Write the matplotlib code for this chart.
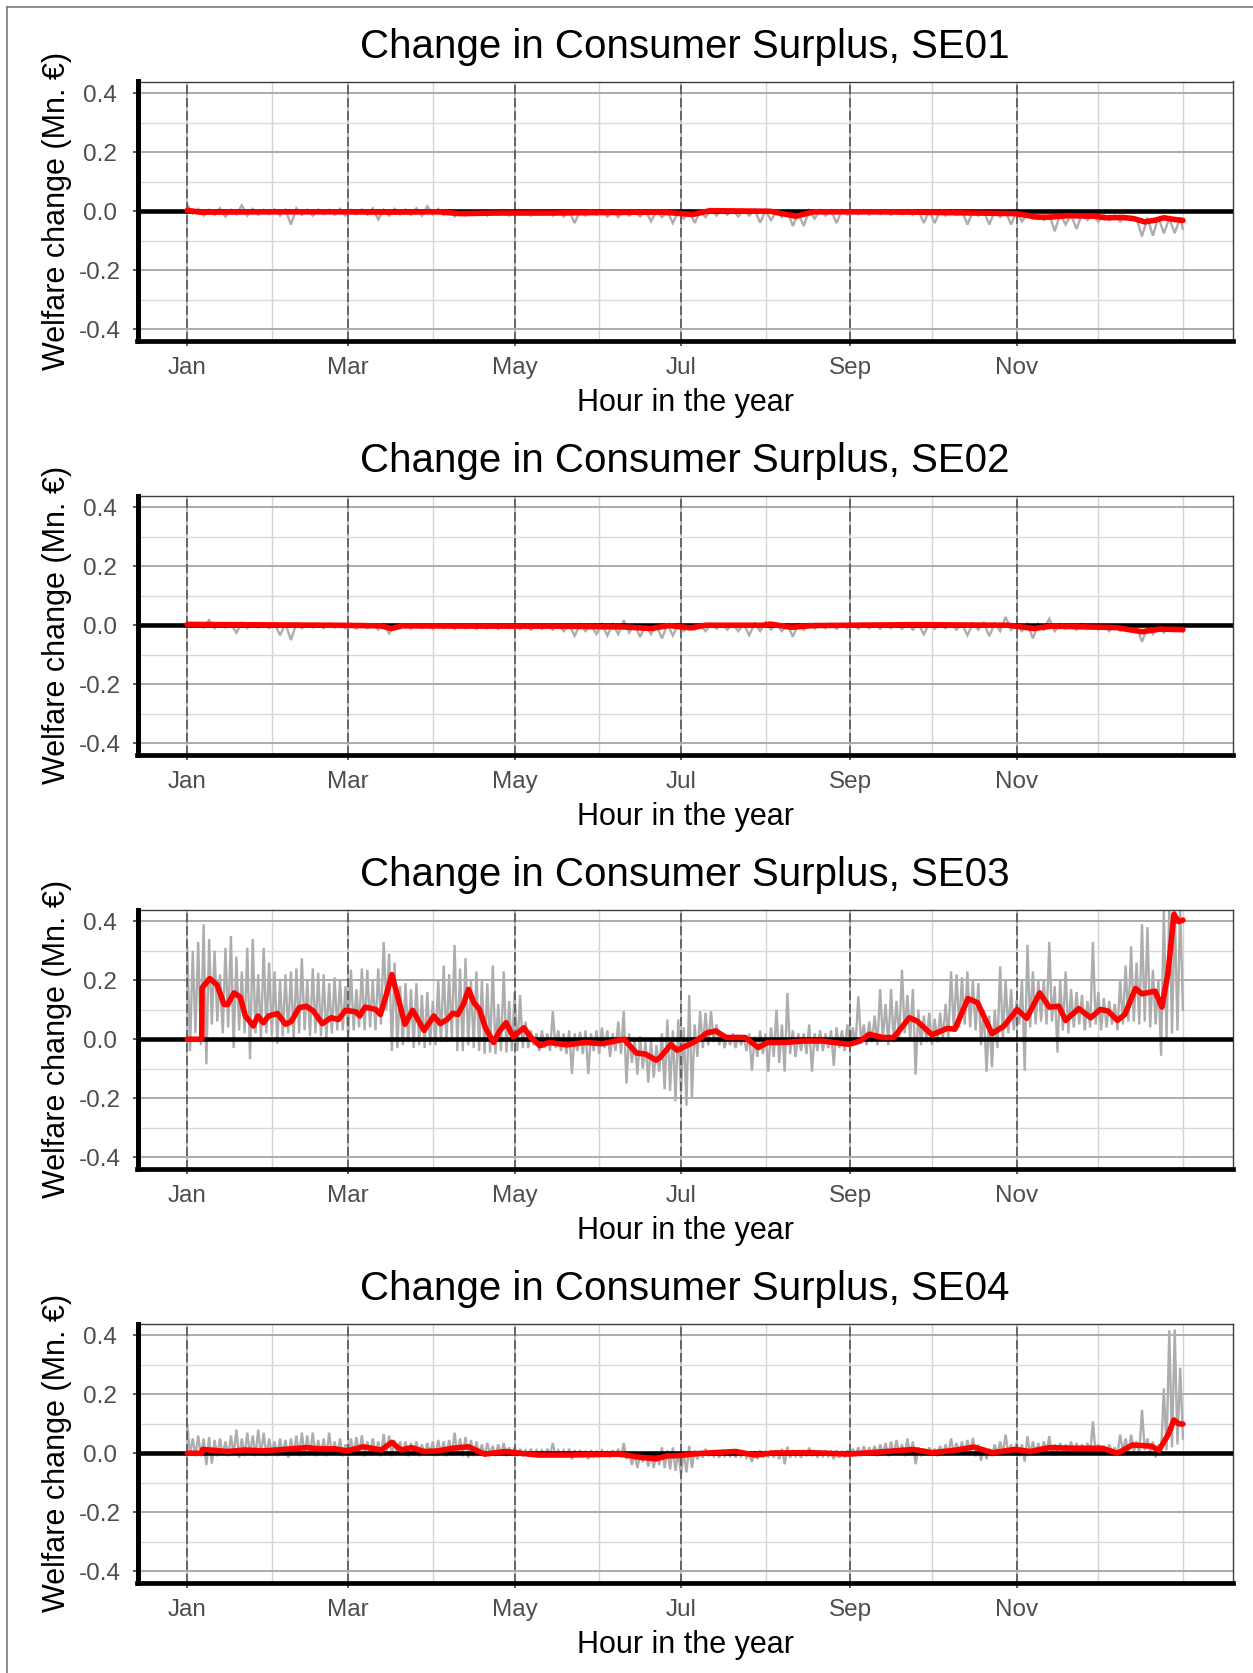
import numpy as np
import matplotlib
matplotlib.use("Agg")
import matplotlib.pyplot as plt
import matplotlib.dates as mdates
from matplotlib.lines import Line2D
from matplotlib.ticker import FixedLocator, FixedFormatter
from datetime import datetime

plt.rcParams['font.family'] = ['Liberation Sans', 'DejaVu Sans']
plt.rcParams['axes.unicode_minus'] = False

# ---------------------------------------------------------------- data
regions = ["SE01", "SE02", "SE03", "SE04"]
year = 2021
days_in_year = 365
major_months = [1, 3, 5, 7, 9, 11]
major_labels = ["Jan", "Mar", "May", "Jul", "Sep", "Nov"]
minor_months = [2, 4, 6, 8, 10, 12]
y_ticks = [-0.4, -0.2, 0.0, 0.2, 0.4]
y_tick_labels = ["-0.4", "-0.2", "0.0", "0.2", "0.4"]
y_minor = [-0.3, -0.1, 0.1, 0.3]

# Hourly welfare change, summarised as alternating peak / trough samples
# (peaks at step*k days, troughs half a step later), in Mn. EUR.
se01_step = 4
se01_hi = [0.022, 0.008, 0.005, 0.01, 0.005, 0.02, 0.008, 0.005, 0.006, 0.005, 0.01, 0.005,
           0.006, 0.005, 0.008, 0.005, 0.006, 0.01, 0.005, 0.008, 0.006, 0.01, 0.017, 0.008,
           0.003, 0.002, 0.0, 0.002, 0.0, 0.003, 0.0, 0.002, 0.0, 0.002, 0.003, 0.0,
           0.002, 0.0, 0.003, 0.0, 0.002, 0.0, 0.002, 0.0, -0.002, 0.0, 0.002, 0.0,
           0.006, 0.005, 0.004, 0.005, 0.004, 0.003, 0.0, 0.002, -0.005, 0.003, 0.004, 0.003,
           0.004, 0.003, 0.004, 0.003, 0.004, 0.003, 0.004, 0.003, 0.003, 0.002, 0.002, 0.0,
           0.0, 0.002, 0.0, 0.0, -0.002, -0.008, -0.012, -0.01, -0.01, -0.012, -0.008, -0.01,
           -0.012, -0.015, -0.02, -0.025, -0.022, -0.02, -0.025, -0.022]
se01_lo = [-0.008, -0.015, -0.012, -0.018, -0.01, -0.015, -0.012, -0.01, -0.015, -0.045, -0.012, -0.015,
           -0.01, -0.012, -0.015, -0.01, -0.012, -0.028, -0.015, -0.01, -0.012, -0.015, -0.01, -0.012,
           -0.018, -0.015, -0.012, -0.015, -0.012, -0.015, -0.012, -0.015, -0.012, -0.015, -0.018, -0.04,
           -0.015, -0.012, -0.018, -0.02, -0.015, -0.018, -0.034, -0.02, -0.04, -0.025, -0.04, -0.02,
           -0.015, -0.012, -0.018, -0.015, -0.039, -0.03, -0.02, -0.05, -0.05, -0.025, -0.015, -0.04,
           -0.012, -0.01, -0.012, -0.01, -0.012, -0.01, -0.012, -0.04, -0.04, -0.015, -0.012, -0.045,
           -0.015, -0.045, -0.02, -0.045, -0.035, -0.025, -0.03, -0.068, -0.045, -0.06, -0.03, -0.035,
           -0.03, -0.035, -0.03, -0.085, -0.083, -0.075, -0.074, -0.06]
se01_avg_day = [0, 4.6, 30, 54.9, 75, 92, 99.9, 115, 134.3, 155, 174, 185.3, 191.6, 213.7, 223,
                229.6, 250, 266.6, 287.8, 303.7, 311.6, 316, 323, 332.8, 336.5, 343, 347, 351,
                355, 358, 362, 365]
se01_avg_val = [0.003, -0.003, -0.002, -0.002, -0.003, -0.002, -0.008, -0.006, -0.006, -0.004, -0.003,
                -0.011, 0.002, 0.0, -0.017, -0.002, -0.002, -0.003, -0.006, -0.008, -0.02, -0.02,
                -0.015, -0.017, -0.022, -0.021, -0.025, -0.036, -0.03, -0.022, -0.028, -0.031]

se02_step = 4
se02_hi = [0.008, 0.006, 0.017, 0.007, 0.006, 0.008, 0.005, 0.006, 0.007, 0.005, 0.006, 0.005,
           0.005, 0.006, 0.004, 0.005, 0.004, 0.003, 0.004, 0.003, 0.004, 0.003, 0.004, 0.003,
           0.003, 0.004, 0.003, 0.002, 0.003, 0.002, 0.003, 0.002, 0.003, 0.002, 0.003, 0.002,
           0.003, 0.002, 0.004, 0.003, 0.017, 0.002, 0.001, 0.0, 0.003, 0.004, 0.003, 0.004,
           0.005, 0.004, 0.005, 0.004, 0.006, 0.01, 0.004, 0.003, 0.004, 0.005, 0.004, 0.005,
           0.004, 0.005, 0.006, 0.005, 0.006, 0.005, 0.006, 0.005, 0.006, 0.005, 0.006, 0.005,
           0.006, 0.008, 0.006, 0.028, 0.005, 0.004, 0.005, 0.022, 0.004, 0.003, 0.004, 0.003,
           0.002, 0.0, -0.002, -0.005, -0.008, -0.005, -0.006, -0.008]
se02_lo = [-0.005, -0.008, -0.01, -0.008, -0.026, -0.01, -0.008, -0.01, -0.034, -0.05, -0.01, -0.008,
           -0.01, -0.008, -0.01, -0.012, -0.01, -0.015, -0.028, -0.01, -0.012, -0.01, -0.012, -0.01,
           -0.012, -0.01, -0.012, -0.01, -0.012, -0.01, -0.012, -0.015, -0.012, -0.015, -0.02, -0.036,
           -0.02, -0.03, -0.035, -0.03, -0.025, -0.04, -0.03, -0.045, -0.035, -0.02, -0.015, -0.02,
           -0.012, -0.015, -0.02, -0.034, -0.02, -0.015, -0.02, -0.039, -0.015, -0.012, -0.01, -0.012,
           -0.01, -0.012, -0.01, -0.012, -0.01, -0.012, -0.015, -0.031, -0.012, -0.01, -0.015, -0.034,
           -0.015, -0.037, -0.02, -0.015, -0.02, -0.045, -0.015, -0.02, -0.012, -0.015, -0.012, -0.015,
           -0.02, -0.018, -0.02, -0.056, -0.03, -0.025, -0.02, -0.022]
se02_avg_day = [0, 15.3, 54.9, 70.8, 74.8, 78.7, 107.8, 134.3, 160.7, 170, 176.6, 184.6, 189.9,
                211, 213.7, 221.6, 229.6, 266.6, 301, 310.3, 316.9, 340.7, 350, 356.6, 365]
se02_avg_val = [0.003, 0.002, 0.0, -0.002, -0.011, -0.002, -0.003, -0.003, -0.006, -0.011, -0.001,
                -0.009, 0.0, 0.0, 0.004, -0.007, -0.001, 0.002, 0.0, -0.011, -0.003, -0.008,
                -0.022, -0.013, -0.015]

se03_step = 2
se03_hi = [0.31, 0.30, 0.33, 0.39, 0.34, 0.30, 0.22, 0.31, 0.35, 0.28,
           0.23, 0.31, 0.34, 0.22, 0.31, 0.26, 0.23, 0.20, 0.22, 0.23,
           0.24, 0.275, 0.20, 0.24, 0.225, 0.22, 0.19, 0.21, 0.20, 0.18,
           0.236, 0.17, 0.24, 0.235, 0.20, 0.24, 0.33, 0.29, 0.26, 0.18,
           0.19, 0.17, 0.19, 0.15, 0.16, 0.13, 0.20, 0.25, 0.22, 0.32,
           0.24, 0.275, 0.20, 0.23, 0.20, 0.19, 0.25, 0.12, 0.23, 0.13,
           0.16, 0.15, 0.06, 0.03, 0.02, 0.03, 0.02, 0.095, 0.03, 0.02,
           0.03, 0.02, 0.025, 0.03, 0.02, 0.03, 0.04, 0.03, 0.02, 0.06,
           0.095, 0.02, 0.0, 0.01, -0.01, 0.0, -0.02, 0.02, 0.067, 0.03,
           0.067, 0.04, 0.15, 0.05, 0.095, 0.09, 0.095, 0.05, 0.02, 0.015,
           0.02, 0.015, 0.01, 0.02, 0.01, 0.03, 0.02, 0.04, 0.10, 0.05,
           0.157, 0.03, 0.02, 0.02, 0.05, 0.02, 0.03, 0.02, 0.03, 0.04,
           0.03, 0.05, 0.04, 0.146, 0.05, 0.06, 0.08, 0.17, 0.12, 0.17,
           0.13, 0.236, 0.15, 0.17, 0.10, 0.08, 0.09, 0.07, 0.09, 0.12,
           0.23, 0.22, 0.21, 0.23, 0.20, 0.19, 0.10, 0.08, 0.10, 0.247,
           0.20, 0.17, 0.13, 0.20, 0.32, 0.23, 0.20, 0.20, 0.33, 0.18,
           0.20, 0.23, 0.17, 0.16, 0.15, 0.13, 0.33, 0.16, 0.14, 0.13,
           0.12, 0.20, 0.25, 0.315, 0.26, 0.39, 0.38, 0.235, 0.20, 0.44,
           0.45, 0.45, 0.45]
se03_lo = [-0.04, 0.02, -0.02, -0.085, 0.05, 0.06, 0.02, 0.04, -0.03, 0.03,
           0.02, -0.067, 0.02, 0.00, 0.02, 0.01, -0.015, 0.01, 0.02, 0.00,
           0.02, 0.03, 0.01, 0.02, 0.01, 0.00, 0.02, 0.03, 0.03, 0.01,
           0.03, 0.04, 0.03, 0.04, 0.03, 0.05, 0.10, -0.04, -0.03, -0.02,
           -0.01, -0.03, -0.02, -0.03, -0.02, -0.02, -0.01, -0.01, 0.00, -0.04,
           -0.04, -0.02, -0.03, -0.04, -0.05, -0.045, -0.05, -0.04, -0.045, -0.04,
           -0.04, -0.03, -0.03, -0.02, -0.04, -0.03, -0.04, -0.03, -0.04, -0.05,
           -0.118, -0.04, -0.05, -0.118, -0.04, -0.05, -0.03, -0.06, -0.04, -0.05,
           -0.15, -0.08, -0.12, -0.10, -0.147, -0.13, -0.11, -0.17, -0.175, -0.21,
           -0.18, -0.225, -0.20, -0.06, -0.03, -0.02, -0.01, -0.02, -0.03, -0.02,
           -0.03, -0.02, -0.04, -0.107, -0.06, -0.05, -0.11, -0.06, -0.08, -0.11,
           -0.05, -0.06, -0.04, -0.05, -0.11, -0.04, -0.04, -0.03, -0.09, -0.03,
           -0.04, -0.02, -0.02, -0.01, -0.02, -0.01, -0.02, 0.00, -0.02, -0.01,
           0.00, 0.02, 0.00, -0.12, -0.02, -0.01, -0.02, -0.01, 0.00, 0.00,
           0.03, 0.04, 0.05, 0.04, 0.03, -0.02, -0.11, -0.095, -0.03, 0.00,
           0.02, 0.03, 0.05, -0.107, 0.04, 0.05, 0.06, 0.05, 0.06, -0.045,
           0.03, 0.02, 0.04, 0.05, 0.03, 0.04, 0.05, 0.03, 0.04, 0.05,
           0.03, 0.05, 0.06, 0.06, 0.05, 0.06, 0.04, 0.05, -0.056, 0.00,
           0.02, 0.03, 0.10]
se03_avg_day = [0, 5.3, 5.4, 8.2, 10.9, 13.5, 14.8, 17.1, 19.4, 21.3, 24.2, 25.9, 27.9, 29.8,
                33.1, 36.0, 38.1, 41.0, 43.6, 46.2, 49.5, 52.7, 55.4, 58.0, 61.9, 63.2, 65.2,
                69.1, 70.8, 73.0, 75.0, 77.6, 79.8, 82.6, 84.2, 86.8, 90.4, 92.7, 95.3, 97.3,
                99.2, 101.2, 103.1, 105.1, 107.1, 109.3, 112.3, 114.5, 116.9, 119.5, 123.4,
                126.0, 129.3, 132.6, 139.1, 145.7, 152.2, 160.1, 164.7, 167.9, 171.9, 173.3,
                177.3, 179.5, 183.0, 186.5, 190.6, 193.8, 197.5, 204.5, 209.3, 212.8, 219.0,
                226.0, 233.0, 237.0, 242.6, 246.7, 250.0, 255.0, 259.0, 264.7, 267.5, 273.0,
                278.6, 281.4, 286.2, 289.7, 295.0, 299.4, 304.2, 307.7, 312.5, 316.0, 319.5,
                322.0, 326.8, 331.2, 334.7, 337.5, 341.0, 343.7, 347.6, 350.0, 354.8, 357.3,
                359.6, 361.7, 363.4, 365.0]
se03_avg_val = [0.0, 0.0, 0.174, 0.206, 0.185, 0.118, 0.118, 0.157, 0.143, 0.079, 0.045, 0.079,
                0.056, 0.079, 0.087, 0.051, 0.060, 0.107, 0.112, 0.096, 0.053, 0.073, 0.067,
                0.098, 0.093, 0.079, 0.109, 0.101, 0.084, 0.152, 0.219, 0.129, 0.051, 0.098,
                0.073, 0.030, 0.079, 0.053, 0.067, 0.088, 0.084, 0.118, 0.169, 0.124, 0.101,
                0.039, -0.011, 0.028, 0.056, 0.008, 0.039, 0.006, -0.022, -0.011, -0.019,
                -0.011, -0.015, 0.0, -0.047, -0.050, -0.071, -0.062, -0.018, -0.037, -0.022,
                -0.006, 0.022, 0.028, 0.006, 0.006, -0.028, -0.011, -0.011, -0.006, -0.006,
                -0.011, -0.017, -0.006, 0.017, 0.006, 0.006, 0.073, 0.062, 0.015, 0.037, 0.034,
                0.138, 0.124, 0.019, 0.045, 0.101, 0.071, 0.157, 0.109, 0.112, 0.064, 0.104,
                0.073, 0.101, 0.096, 0.064, 0.084, 0.172, 0.154, 0.163, 0.109, 0.23, 0.424,
                0.399, 0.404]

se04_step = 2
se04_hi = [0.095, 0.05, 0.06, 0.05, 0.055, 0.045, 0.05, 0.04, 0.06, 0.08,
           0.05, 0.07, 0.06, 0.08, 0.07, 0.05, 0.04, 0.05, 0.045, 0.05,
           0.06, 0.07, 0.06, 0.07, 0.045, 0.05, 0.07, 0.04, 0.05, 0.03,
           0.05, 0.055, 0.06, 0.04, 0.05, 0.04, 0.065, 0.06, 0.045, 0.04,
           0.04, 0.035, 0.04, 0.03, 0.035, 0.04, 0.045, 0.04, 0.045, 0.07,
           0.05, 0.055, 0.045, 0.04, 0.03, 0.035, 0.025, 0.03, 0.035, 0.02,
           0.02, 0.015, 0.01, 0.015, 0.01, 0.01, 0.015, 0.035, 0.01, 0.01,
           0.015, 0.01, 0.01, 0.005, 0.01, 0.005, 0.01, 0.005, 0.01, 0.015,
           0.035, 0.005, 0.0, -0.005, 0.0, -0.005, 0.005, 0.02, 0.01, 0.02,
           0.005, 0.0, 0.025, 0.01, 0.005, 0.015, 0.01, 0.005, 0.01, 0.005,
           0.01, 0.01, 0.005, 0.0, 0.005, 0.01, 0.005, 0.01, 0.01, 0.015,
           0.022, 0.01, 0.005, 0.01, 0.019, 0.01, 0.005, 0.01, 0.005, 0.01,
           0.005, 0.01, 0.015, 0.02, 0.024, 0.02, 0.025, 0.03, 0.035, 0.04,
           0.045, 0.03, 0.05, 0.04, 0.02, 0.015, 0.02, 0.015, 0.025, 0.03,
           0.05, 0.035, 0.04, 0.045, 0.052, 0.03, 0.02, 0.015, 0.03, 0.04,
           0.063, 0.03, 0.035, 0.03, 0.058, 0.04, 0.035, 0.04, 0.058, 0.03,
           0.035, 0.03, 0.04, 0.035, 0.03, 0.035, 0.108, 0.03, 0.025, 0.03,
           0.02, 0.063, 0.05, 0.063, 0.04, 0.147, 0.05, 0.04, 0.03, 0.22,
           0.417, 0.42, 0.29]
se04_lo = [-0.005, -0.01, -0.01, -0.04, -0.035, -0.01, -0.005, -0.01, -0.005, -0.015,
           -0.01, -0.005, -0.01, -0.005, -0.01, -0.005, -0.01, -0.005, -0.015, -0.005,
           -0.01, -0.005, -0.005, -0.01, -0.005, -0.01, -0.005, -0.005, -0.01, -0.005,
           -0.005, -0.005, -0.01, -0.005, -0.005, -0.01, -0.005, -0.01, -0.005, -0.005,
           -0.01, -0.005, -0.01, -0.005, -0.005, -0.01, -0.005, -0.01, -0.005, -0.005,
           -0.01, -0.015, -0.01, -0.005, -0.01, -0.005, -0.01, -0.005, -0.01, -0.005,
           -0.01, -0.01, -0.005, -0.01, -0.005, -0.01, -0.005, -0.01, -0.005, -0.01,
           -0.02, -0.01, -0.01, -0.02, -0.01, -0.01, -0.005, -0.01, -0.01, -0.015,
           -0.02, -0.04, -0.05, -0.03, -0.045, -0.05, -0.04, -0.05, -0.055, -0.06,
           -0.07, -0.065, -0.05, -0.02, -0.015, -0.01, -0.01, -0.015, -0.01, -0.01,
           -0.015, -0.01, -0.015, -0.03, -0.02, -0.015, -0.01, -0.015, -0.02, -0.037,
           -0.015, -0.01, -0.015, -0.01, -0.01, -0.015, -0.01, -0.01, -0.02, -0.015,
           -0.01, -0.01, -0.005, -0.01, -0.005, -0.005, -0.01, -0.005, -0.01, -0.005,
           -0.005, -0.01, -0.005, -0.037, -0.01, -0.005, -0.005, -0.01, -0.005, -0.005,
           0.0, -0.005, -0.005, 0.0, -0.01, -0.026, -0.02, -0.01, -0.005, 0.0,
           -0.005, -0.005, -0.01, -0.028, -0.005, 0.0, -0.005, 0.0, -0.005, 0.0,
           -0.005, 0.0, 0.0, -0.005, 0.0, -0.005, 0.0, -0.005, 0.0, 0.0,
           -0.005, 0.005, 0.0, 0.005, 0.0, 0.01, 0.005, -0.014, 0.0, 0.01,
           0.02, 0.03, 0.05]
se04_avg_day = [0, 5.3, 5.6, 14.8, 21.3, 27.9, 35.7, 43.6, 48.8, 54.1, 58.6, 64.5, 71.1, 75.0,
                78.3, 82.2, 86.8, 92.0, 97.3, 103.1, 109.0, 116.9, 122.1, 128.7, 139.1, 158.8,
                165.3, 171.9, 175.8, 180.2, 187.2, 201.0, 208.0, 214.9, 228.7, 242.6, 256.4,
                266.1, 273.0, 281.4, 288.3, 295.2, 303.5, 309.1, 316.0, 325.7, 335.4, 341.0,
                346.5, 353.4, 356.2, 359.6, 361.7, 363.4, 365.0]
se04_avg_val = [0.0, 0.0, 0.013, 0.006, 0.011, 0.008, 0.013, 0.019, 0.015, 0.015, 0.008, 0.022,
                0.011, 0.037, 0.011, 0.019, 0.006, 0.008, 0.017, 0.022, -0.003, 0.006, 0.0,
                -0.006, -0.006, -0.003, -0.013, -0.019, -0.009, -0.008, -0.001, 0.006, -0.006,
                0.001, 0.002, -0.003, 0.006, 0.013, 0.002, 0.01, 0.021, 0.002, 0.013, 0.006,
                0.019, 0.017, 0.017, 0.0, 0.028, 0.024, 0.01, 0.063, 0.113, 0.1, 0.099]

series = {
    "SE01": (se01_step, se01_hi, se01_lo, se01_avg_day, se01_avg_val),
    "SE02": (se02_step, se02_hi, se02_lo, se02_avg_day, se02_avg_val),
    "SE03": (se03_step, se03_hi, se03_lo, se03_avg_day, se03_avg_val),
    "SE04": (se04_step, se04_hi, se04_lo, se04_avg_day, se04_avg_val),
}


def hourly_trace(step, hi, lo):
    """Interleave peaks and troughs into one ragged hourly-style trace."""
    x = np.concatenate([np.arange(len(hi)) * step, np.arange(len(lo)) * step + step / 2])
    y = np.concatenate([np.asarray(hi, float), np.asarray(lo, float)])
    order = np.argsort(x, kind="stable")
    return np.minimum(x[order], days_in_year), y[order]


# ---------------------------------------------------------------- layout
W, H = 1253, 1673
fig = plt.figure(figsize=(W / 100, H / 100), dpi=100)
fig.patch.set_facecolor("white")

ax_left, ax_right = 137.5, 1232.7
top0, bottom0, gap = 81.5, 341.0, 414.0
ax_w = ax_right - ax_left
ax_h = bottom0 - top0

t0 = mdates.date2num(datetime(year, 1, 1))
pad_days = 0.05 * days_in_year
major_pos = [mdates.date2num(datetime(year, m, 1)) for m in major_months]
minor_pos = [mdates.date2num(datetime(year, m, 1)) for m in minor_months]
minor_pos.append(mdates.date2num(datetime(year + 1, 1, 1)))

for i, region in enumerate(regions):
    top = top0 + i * gap
    bottom = bottom0 + i * gap
    ax = fig.add_axes([ax_left / W, 1 - bottom / H, ax_w / W, ax_h / H])
    ax.set_facecolor("white")

    step, hi, lo, avg_day, avg_val = series[region]
    gx, gy = hourly_trace(step, hi, lo)
    ax.plot(t0 + gx, gy, color="#ADADAD", lw=1.7, zorder=2, solid_joinstyle="miter")

    for p in major_pos:
        ax.axvline(p, color="#4D4D4D", lw=1.1, ls=(0, (6, 2.5)), zorder=3)
    ax.axhline(0, color="black", lw=3.3, zorder=4)
    ax.plot(t0 + np.asarray(avg_day), avg_val, color="#FF0000", lw=4.0, zorder=5,
            solid_joinstyle="round", solid_capstyle="round")

    ax.set_xlim(t0 - pad_days, t0 + days_in_year + pad_days)
    ax.set_ylim(-0.44, 0.44)

    ax.xaxis.set_major_locator(FixedLocator(major_pos))
    ax.xaxis.set_major_formatter(FixedFormatter(major_labels))
    ax.xaxis.set_minor_locator(FixedLocator(minor_pos))
    ax.yaxis.set_major_locator(FixedLocator(y_ticks))
    ax.yaxis.set_major_formatter(FixedFormatter(y_tick_labels))
    ax.yaxis.set_minor_locator(FixedLocator(y_minor))

    ax.set_axisbelow(True)
    ax.grid(which="major", axis="y", color="#ABABAB", lw=1.4)
    ax.grid(which="minor", axis="y", color="#D9D9D9", lw=1.0)
    ax.grid(which="major", axis="x", color="#ABABAB", lw=1.1)
    ax.grid(which="minor", axis="x", color="#D3D3D3", lw=1.0)

    ax.tick_params(which="major", length=3.6, width=1.1, color="#333333",
                   labelsize=17.5, labelcolor="#4D4D4D")
    ax.tick_params(axis="y", which="major", pad=23.5)
    ax.tick_params(axis="x", which="major", pad=8.0)
    ax.tick_params(which="minor", length=0)
    for lab in ax.get_yticklabels():
        lab.set_horizontalalignment("center")

    for side in ("top", "right"):
        ax.spines[side].set_color("#3C3C3C")
        ax.spines[side].set_linewidth(1.0)
    ax.spines["left"].set_color("black")
    ax.spines["left"].set_linewidth(3.6)
    ax.spines["bottom"].set_color("black")
    ax.spines["bottom"].set_linewidth(3.4)
    for side in ("left", "bottom"):
        ax.spines[side].set_capstyle("projecting")
        ax.spines[side].set_zorder(6)

    ax.text(0.5, 1 + 23.2 / ax_h, f"Change in Consumer Surplus, {region}",
            transform=ax.transAxes, ha="center", va="baseline", fontsize=29, color="black")

    ax.set_xlabel("Hour in the year", fontsize=22, color="black")
    ax.xaxis.set_label_coords(0.5, -70.0 / ax_h)
    ax.xaxis.label.set_va("baseline")
    ax.set_ylabel("Welfare change (Mn. €)", fontsize=22, color="black")
    ax.yaxis.set_label_coords(-80.5 / ax_w, 0.5)
    ax.yaxis.label.set_va("center")

# thin outer frame along the left and top edges
fig.add_artist(Line2D([6.5 / W, 6.5 / W], [0, 1 - 6.7 / H], transform=fig.transFigure,
                      color="#6E6E6E", lw=1.1))
fig.add_artist(Line2D([6.5 / W, 1], [1 - 6.7 / H, 1 - 6.7 / H], transform=fig.transFigure,
                      color="#6E6E6E", lw=1.1))

fig.savefig("out.png", dpi=100, facecolor="white")
